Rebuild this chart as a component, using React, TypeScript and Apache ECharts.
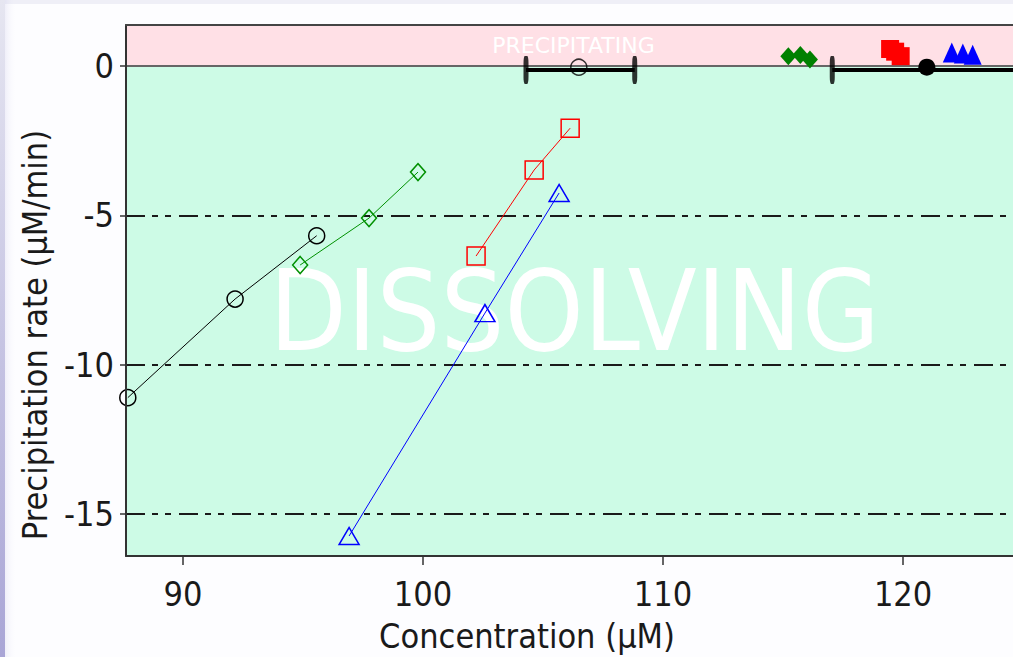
import React, { useEffect, useRef } from "react";
import * as echarts from "echarts";

// ---- axes ----
const X_MIN = 87.625;
const X_MAX = 124.58;
const Y_MIN = -16.4;
const Y_MAX = 1.373;
const xTicks = [90, 100, 110, 120];
const yTicks = [-15, -10, -5, 0];
const refLines = [-5, -10, -15];

// ---- dissolving-region series (concentration, rate) ----
const blackX = [87.7, 92.17, 95.57];
const blackY = [-11.1, -7.8, -5.68];
const greenX = [94.88, 97.75, 99.79];
const greenY = [-6.66, -5.09, -3.55];
const redX = [102.21, 104.63, 106.13];
const redY = [-6.36, -3.48, -2.08];
const blueX = [96.92, 102.58, 105.67];
const blueY = [-15.73, -8.27, -4.25];

// ---- equilibrium points near zero ----
const openCircleX = [106.49];
const openCircleY = [-0.04];
const openErrX = [104.29, 108.82];
const openErrY = -0.13;
const filledCircleX = [120.99];
const filledCircleY = [-0.04];
const filledErrX = [117.05, 124.93];
const filledErrY = -0.13;
const greenTopX = [115.22, 115.72, 116.12];
const greenTopY = [0.33, 0.37, 0.22];
const redTopX = [119.46, 119.67, 119.9];
const redTopY = [0.57, 0.48, 0.33];
const blueTopX = [122.03, 122.49, 122.9];
const blueTopY = [0.45, 0.42, 0.38];

const FONT = "'DejaVu Sans Condensed', 'Liberation Sans', sans-serif";

const zip = (xs: number[], ys: number[]) => xs.map((x, i) => [x, ys[i]]);

export default function App() {
  const ref = useRef<HTMLDivElement>(null);
  useEffect(() => {
    if (!ref.current) return;
    const chart = echarts.init(ref.current, undefined, { renderer: "svg" });

    const lineSeries = (name: string, xs: number[], ys: number[], color: string, symbol: string, size: any) => ({
      name,
      type: "line",
      data: zip(xs, ys),
      symbol,
      symbolSize: size,
      z: 5,
      lineStyle: { color, width: 1 },
      itemStyle: { color: "transparent", borderColor: color, borderWidth: 1.5 },
      clip: true,
    });

    const scatter = (name: string, xs: number[], ys: number[], color: string, symbol: string, size: any) => ({
      name,
      type: "scatter",
      data: zip(xs, ys),
      symbol,
      symbolSize: size,
      z: 6,
      itemStyle: { color, opacity: 1 },
    });

    const errBar = (name: string, xs: number[], y: number) => [
      {
        name,
        type: "line",
        data: xs.map((x) => [x, y]),
        symbol: "none",
        z: 5,
        lineStyle: { color: "#000", width: 4 },
        clip: true,
      },
      {
        name: name + "-caps",
        type: "scatter",
        data: xs.map((x) => [x, y]),
        symbol: "roundRect",
        symbolSize: [5, 28],
        z: 5,
        itemStyle: { color: "#000" },
      },
    ];

    chart.setOption({
      animation: false,
      backgroundColor: "#efeff7",
      graphic: [
        { type: "rect", z: -20, shape: { x: 4, y: 4, width: 1013, height: 657 }, style: { fill: "#fdfdff" } },
        {
          type: "rect",
          z: -19,
          shape: { x: 0, y: 0, width: 5, height: 657 },
          style: {
            fill: new echarts.graphic.LinearGradient(0, 0, 0, 1, [
              { offset: 0, color: "#e6e6f1" },
              { offset: 1, color: "#a9a5d6" },
            ]),
          },
        },
        {
          type: "rect",
          z: -19,
          shape: { x: 5, y: 0, width: 12, height: 657 },
          style: {
            fill: new echarts.graphic.LinearGradient(0, 0, 1, 0, [
              { offset: 0, color: "rgba(190,188,228,0.22)" },
              { offset: 1, color: "rgba(255,255,255,0)" },
            ]),
          },
        },
        {
          type: "text",
          z: 10,
          x: 35,
          y: 335,
          rotation: Math.PI / 2,
          style: {
            text: "Precipitation rate (µM/min)",
            fontFamily: FONT,
            fontSize: 34,
            fill: "#1a1a1a",
            align: "center",
            verticalAlign: "middle",
          },
        },
        {
          type: "text",
          z: 10,
          x: 527,
          y: 636,
          style: {
            text: "Concentration (µM)",
            fontFamily: FONT,
            fontSize: 34,
            fill: "#1a1a1a",
            align: "center",
            verticalAlign: "middle",
          },
        },
      ],
      grid: {
        left: 126,
        top: 25,
        right: 0,
        bottom: 101,
        show: false,
      },
      xAxis: [
        {
          type: "value",
          min: X_MIN,
          max: X_MAX,
          z: 10,
          axisLine: { show: true, onZero: false, lineStyle: { color: "#333", width: 2 } },
          splitLine: { show: false },
          axisTick: { show: true, customValues: xTicks, length: 9, lineStyle: { color: "#333", width: 1.5 } },
          axisLabel: {
            customValues: xTicks,
            margin: 21,
            fontFamily: FONT,
            fontSize: 34,
            color: "#1a1a1a",
          },
        },
        {
          type: "value",
          position: "top",
          min: X_MIN,
          max: X_MAX,
          z: 10,
          axisLine: { show: true, onZero: false, lineStyle: { color: "#444", width: 2 } },
          splitLine: { show: false },
          axisTick: { show: false },
          axisLabel: { show: false },
        },
      ],
      yAxis: {
        type: "value",
        min: Y_MIN,
        max: Y_MAX,
        z: 10,
        axisLine: { show: true, onZero: false, lineStyle: { color: "#333", width: 2 } },
        splitLine: { show: false },
        axisTick: { show: true, customValues: yTicks, length: 6, lineStyle: { color: "#333", width: 1.5 } },
        axisLabel: {
          customValues: yTicks,
          margin: 12,
          fontFamily: FONT,
          fontSize: 34,
          color: "#1a1a1a",
        },
      },
      series: [
        {
          name: "regions",
          type: "line",
          data: [],
          z: 1,
          markArea: {
            silent: true,
            data: [
              [
                {
                  yAxis: 0,
                  itemStyle: { color: "#ffe0e6" },
                  label: {
                    show: true,
                    position: "inside",
                    offset: [4, 0],
                    formatter: "PRECIPITATING",
                    color: "#ffffff",
                    fontFamily: "'DejaVu Sans', sans-serif",
                    fontSize: 22,
                  },
                },
                { yAxis: Y_MAX },
              ],
              [
                {
                  yAxis: Y_MIN,
                  itemStyle: { color: "#cdfbe6" },
                  label: {
                    show: true,
                    position: "inside",
                    offset: [5, 0],
                    formatter: "DISSOLVING",
                    color: "#ffffff",
                    fontFamily: FONT,
                    fontSize: 112,
                  },
                },
                { yAxis: 0 },
              ],
            ],
          },
        },
        {
          name: "guides",
          type: "line",
          data: [],
          z: 2,
          markLine: {
            silent: true,
            symbol: "none",
            label: { show: false },
            data: [
              { yAxis: 0, lineStyle: { color: "#666", width: 2, type: "solid" } },
              ...refLines.map((v) => ({
                yAxis: v,
                lineStyle: { color: "#1a1a1a", width: 2, type: [19, 7, 6, 7, 6, 8] },
              })),
            ],
          },
        },
        lineSeries("black", blackX, blackY, "#000000", "circle", 16),
        lineSeries("green", greenX, greenY, "#009000", "diamond", [15, 17]),
        lineSeries("red", redX, redY, "#ff0000", "rect", 18),
        lineSeries("blue", blueX, blueY, "#0000ff", "triangle", [20, 17]),
        ...errBar("openErr", openErrX, openErrY),
        ...errBar("filledErr", filledErrX, filledErrY),
        {
          name: "openCircle",
          type: "scatter",
          data: zip(openCircleX, openCircleY),
          symbol: "circle",
          symbolSize: 16,
          z: 6,
          itemStyle: { color: "transparent", borderColor: "#000", borderWidth: 1.5 },
        },
        scatter("filledCircle", filledCircleX, filledCircleY, "#000000", "circle", 17),
        scatter("greenTop", greenTopX, greenTopY, "#008000", "diamond", [16, 18]),
        scatter("redTop", redTopX, redTopY, "#ff0000", "rect", 18),
        scatter("blueTop", blueTopX, blueTopY, "#0000ff", "triangle", [18, 20]),
      ],
    });
    return () => chart.dispose();
  }, []);
  return (
    <div
      ref={ref}
      style={{ position: "fixed", left: 0, top: 0, width: 1013, height: 657 }}
    />
  );
}
